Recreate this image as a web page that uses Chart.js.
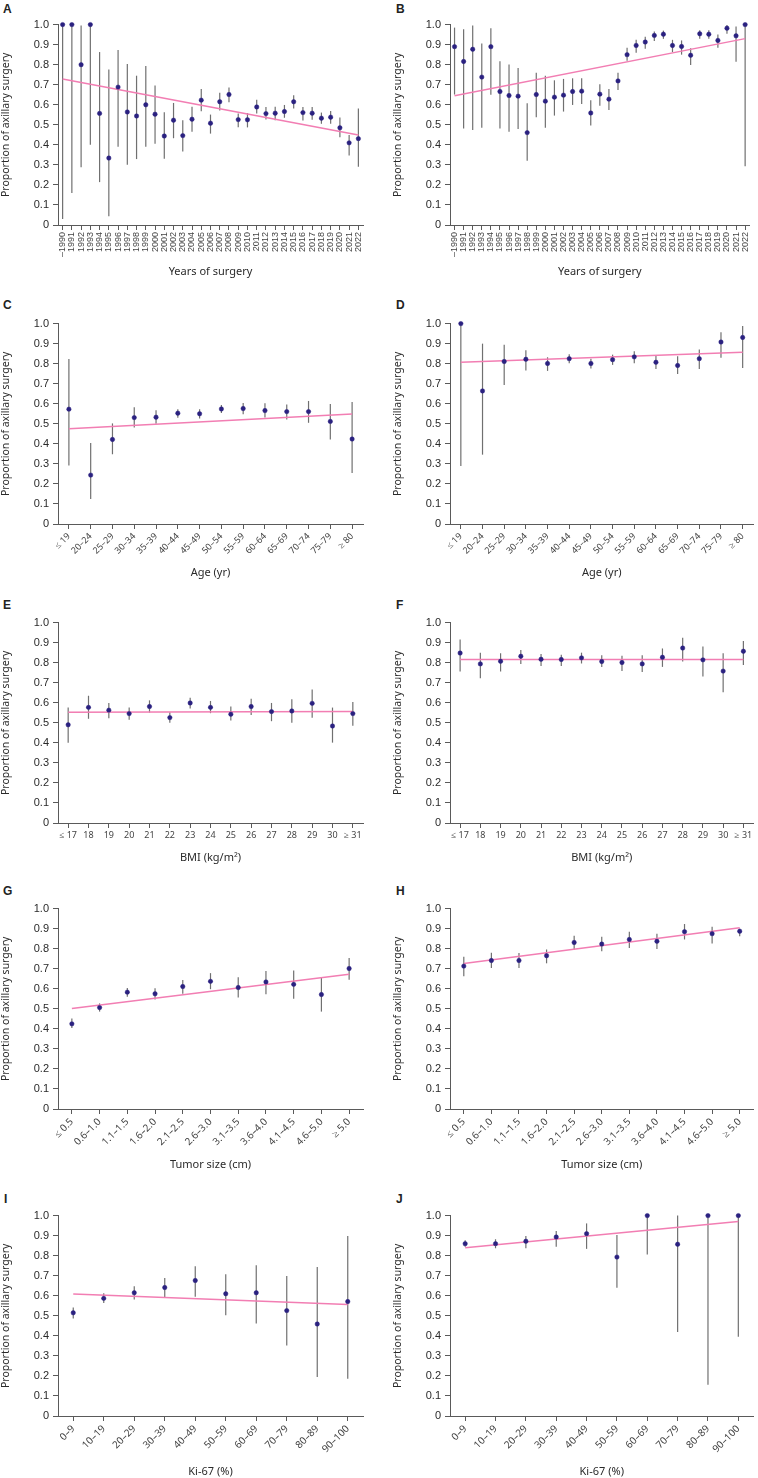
<!DOCTYPE html>
<html>
<head>
<meta charset="utf-8">
<script src="https://cdn.jsdelivr.net/npm/chart.js@4.4.1/dist/chart.umd.min.js"></script>
<style>
  body { margin: 0; background: #fff; width: 758px; height: 1478px; position: relative; overflow: hidden; }
  canvas { position: absolute; }
  .letter { position: absolute; font: bold 12px "Liberation Sans", Arial, sans-serif; line-height: 1; color: #222; }
</style>
</head>
<body>
<script>
// --- category labels ---
const yearLabels = ['–1990','1991','1992','1993','1994','1995','1996','1997','1998','1999','2000','2001','2002','2003','2004','2005','2006','2007','2008','2009','2010','2011','2012','2013','2014','2015','2016','2017','2018','2019','2020','2021','2022'];
const ageLabels = ['≤ 19','20–24','25–29','30–34','35–39','40–44','45–49','50–54','55–59','60–64','65–69','70–74','75–79','≥ 80'];
const bmiLabels = ['≤ 17','18','19','20','21','22','23','24','25','26','27','28','29','30','≥ 31'];
const sizeLabels = ['≤ 0.5','0.6–1.0','1.1–1.5','1.6–2.0','2.1–2.5','2.6–3.0','3.1–3.5','3.6–4.0','4.1–4.5','4.6–5.0','≥ 5.0'];
const kiLabels = ['0–9','10–19','20–29','30–39','40–49','50–59','60–69','70–79','80–89','90–100'];
const yTicks = [0, 0.1, 0.2, 0.3, 0.4, 0.5, 0.6, 0.7, 0.8, 0.9, 1.0];

// --- A: years of surgery ---
const aVal  = [1.0,1.0,0.80,1.0,0.557,0.334,0.688,0.564,0.544,0.600,0.553,0.444,0.523,0.446,0.528,0.623,0.508,0.615,0.651,0.526,0.525,0.589,0.556,0.558,0.566,0.615,0.561,0.558,0.533,0.538,0.485,0.410,0.431];
const aLow  = [0.03,0.16,0.288,0.40,0.214,0.044,0.391,0.301,0.329,0.390,0.406,0.331,0.433,0.367,0.465,0.567,0.456,0.571,0.613,0.488,0.487,0.556,0.526,0.523,0.535,0.581,0.521,0.525,0.505,0.505,0.438,0.347,0.291];
const aHigh = [1.0,1.0,0.995,1.0,0.863,0.776,0.873,0.803,0.745,0.794,0.696,0.563,0.609,0.523,0.590,0.679,0.551,0.660,0.686,0.556,0.559,0.625,0.589,0.590,0.599,0.648,0.589,0.589,0.561,0.569,0.536,0.449,0.581];
const aTrend = [0.728, 0.449];

// --- B: years of surgery ---
const bVal  = [0.890,0.816,0.877,0.738,0.890,0.666,0.646,0.643,0.461,0.651,0.618,0.638,0.648,0.666,0.668,0.559,0.653,0.628,0.719,0.850,0.896,0.913,0.946,0.952,0.896,0.891,0.847,0.954,0.952,0.921,0.982,0.944,1.0];
const bLow  = [0.651,0.482,0.474,0.485,0.650,0.482,0.465,0.479,0.321,0.538,0.485,0.546,0.566,0.599,0.604,0.497,0.595,0.574,0.674,0.819,0.860,0.880,0.918,0.929,0.863,0.850,0.799,0.929,0.929,0.885,0.954,0.814,0.293];
const bHigh = [0.985,0.977,0.995,0.906,0.982,0.817,0.801,0.783,0.607,0.760,0.745,0.722,0.729,0.732,0.732,0.622,0.702,0.679,0.760,0.885,0.924,0.939,0.965,0.970,0.924,0.921,0.882,0.972,0.972,0.951,0.998,0.990,1.0];
const bTrend = [0.645, 0.930];

// --- C / D: age ---
const cVal  = [0.573,0.244,0.422,0.531,0.533,0.553,0.550,0.574,0.576,0.566,0.561,0.561,0.512,0.424];
const cLow  = [0.292,0.125,0.348,0.482,0.500,0.530,0.526,0.554,0.548,0.531,0.521,0.505,0.422,0.254];
const cHigh = [0.823,0.404,0.502,0.583,0.568,0.573,0.573,0.594,0.604,0.602,0.596,0.614,0.599,0.609];
const cTrend = [0.475, 0.549];

const dVal  = [1.0,0.664,0.811,0.822,0.801,0.825,0.801,0.820,0.834,0.807,0.791,0.825,0.908,0.931];
const dLow  = [0.290,0.346,0.694,0.766,0.764,0.802,0.776,0.794,0.802,0.773,0.748,0.774,0.830,0.779];
const dHigh = [1.0,0.900,0.895,0.867,0.832,0.847,0.825,0.845,0.862,0.840,0.837,0.871,0.957,0.988];
const dTrend = [0.807, 0.857];

// --- E / F: BMI ---
const eVal  = [0.490,0.577,0.563,0.546,0.581,0.526,0.599,0.577,0.543,0.581,0.556,0.559,0.597,0.484,0.546];
const eLow  = [0.400,0.520,0.523,0.515,0.551,0.500,0.571,0.548,0.512,0.539,0.508,0.500,0.525,0.401,0.485];
const eHigh = [0.576,0.635,0.599,0.576,0.612,0.553,0.625,0.609,0.581,0.620,0.599,0.618,0.666,0.576,0.604];
const eTrend = [0.553, 0.556];

const fVal  = [0.848,0.794,0.807,0.832,0.817,0.816,0.824,0.806,0.801,0.794,0.827,0.873,0.814,0.758,0.857];
const fLow  = [0.756,0.722,0.756,0.794,0.783,0.784,0.796,0.778,0.758,0.753,0.779,0.806,0.731,0.652,0.789];
const fHigh = [0.916,0.850,0.847,0.863,0.843,0.840,0.850,0.837,0.835,0.837,0.871,0.924,0.881,0.847,0.908];
const fTrend = [0.816, 0.816];

// --- G / H: tumor size ---
const gVal  = [0.425,0.506,0.583,0.575,0.611,0.637,0.606,0.634,0.622,0.571,0.701];
const gLow  = [0.404,0.486,0.560,0.547,0.575,0.598,0.557,0.573,0.550,0.486,0.645];
const gHigh = [0.452,0.527,0.604,0.603,0.644,0.678,0.658,0.688,0.691,0.655,0.754];
const gTrend = [0.502, 0.672];

const hVal  = [0.713,0.741,0.741,0.765,0.831,0.823,0.846,0.837,0.885,0.875,0.887];
const hLow  = [0.662,0.703,0.703,0.727,0.795,0.787,0.803,0.798,0.846,0.826,0.862];
const hHigh = [0.760,0.780,0.778,0.796,0.865,0.860,0.885,0.875,0.923,0.910,0.900];
const hTrend = [0.726, 0.905];

// --- I / J: Ki-67 ---
const iVal  = [0.515,0.587,0.615,0.641,0.676,0.610,0.615,0.526,0.459,0.571];
const iLow  = [0.487,0.564,0.581,0.590,0.595,0.503,0.462,0.352,0.194,0.186];
const iHigh = [0.541,0.612,0.648,0.689,0.747,0.707,0.752,0.699,0.743,0.898];
const iTrend = [0.609, 0.556];

const jVal  = [0.860,0.860,0.872,0.893,0.910,0.793,1.0,0.857,1.0,1.0];
const jLow  = [0.844,0.837,0.837,0.844,0.834,0.640,0.806,0.419,0.156,0.396];
const jHigh = [0.877,0.882,0.898,0.923,0.961,0.903,1.0,1.0,1.0,1.0];
const jTrend = [0.839, 0.970];

// colours
const POINT = '#2a2180';
const PINK = '#f27eb3';
const BAR = '#707070';
const AXIS = '#5a5a5a';
const TEXT = '#2a2a2a';
const XTEXT = '#444444';

// error bars drawn under the datasets, through the chart's own scales
const errorBars = {
  id: 'errorBars',
  beforeDatasetsDraw(chart, args, opts) {
    const { ctx, scales: { x, y } } = chart;
    ctx.save();
    ctx.strokeStyle = BAR;
    ctx.lineWidth = 1.2;
    opts.low.forEach((lo, i) => {
      const px = x.getPixelForValue(i);
      ctx.beginPath();
      ctx.moveTo(px, y.getPixelForValue(lo));
      ctx.lineTo(px, y.getPixelForValue(opts.high[i]));
      ctx.stroke();
    });
    ctx.restore();
  }
};

// panel layout (top of chart area, x-axis box height, tick font etc.)
const panels = [
  { key: 'A', col: 0, top: 22,    xh: 53, labels: yearLabels, val: aVal, low: aLow, high: aHigh, trend: aTrend, title: 'Years of surgery', rot: 90, fam: '"Liberation Sans", Arial', size: 9 },
  { key: 'B', col: 1, top: 22,    xh: 53, labels: yearLabels, val: bVal, low: bLow, high: bHigh, trend: bTrend, title: 'Years of surgery', rot: 90, fam: '"Liberation Sans", Arial', size: 9 },
  { key: 'C', col: 0, top: 320.5, xh: 55, labels: ageLabels,  val: cVal, low: cLow, high: cHigh, trend: cTrend, title: 'Age (yr)', rot: 45, fam: '"Noto Sans"', size: 9 },
  { key: 'D', col: 1, top: 320.5, xh: 55, labels: ageLabels,  val: dVal, low: dLow, high: dHigh, trend: dTrend, title: 'Age (yr)', rot: 45, fam: '"Noto Sans"', size: 9 },
  { key: 'E', col: 0, top: 620,   xh: 41, labels: bmiLabels,  val: eVal, low: eLow, high: eHigh, trend: eTrend, title: 'BMI (kg/m²)', rot: 0, fam: '"Noto Sans"', size: 9 },
  { key: 'F', col: 1, top: 620,   xh: 41, labels: bmiLabels,  val: fVal, low: fLow, high: fHigh, trend: fTrend, title: 'BMI (kg/m²)', rot: 0, fam: '"Noto Sans"', size: 9 },
  { key: 'G', col: 0, top: 905.7, xh: 62, labels: sizeLabels, val: gVal, low: gLow, high: gHigh, trend: gTrend, title: 'Tumor size (cm)', rot: 45, fam: '"Noto Sans"', size: 10 },
  { key: 'H', col: 1, top: 905.7, xh: 62, labels: sizeLabels, val: hVal, low: hLow, high: hHigh, trend: hTrend, title: 'Tumor size (cm)', rot: 45, fam: '"Noto Sans"', size: 10 },
  { key: 'I', col: 0, top: 1212.5, xh: 62, labels: kiLabels,  val: iVal, low: iLow, high: iHigh, trend: iTrend, title: 'Ki-67 (%)', rot: 45, fam: '"Noto Sans"', size: 10 },
  { key: 'J', col: 1, top: 1212.5, xh: 62, labels: kiLabels,  val: jVal, low: jLow, high: jHigh, trend: jTrend, title: 'Ki-67 (%)', rot: 45, fam: '"Noto Sans"', size: 10 }
];

// panel letters (page position of the letter box)
const letters = [
  ['A', 3, 2.5], ['B', 396, 2.5], ['C', 3, 299], ['D', 396, 299], ['E', 3, 599],
  ['F', 396, 599], ['G', 3, 885], ['H', 396, 885], ['I', 4, 1192.5], ['J', 396, 1192.5]
];
letters.forEach(([t, x, y]) => {
  const d = document.createElement('div');
  d.className = 'letter';
  d.textContent = t;
  d.style.left = x + 'px';
  d.style.top = y + 'px';
  document.body.appendChild(d);
});

const AREA_H = 203;
const PAD_TOP = 8;

panels.forEach(p => {
  const cv = document.createElement('canvas');
  const h = PAD_TOP + AREA_H + p.xh;
  cv.width = 379;
  cv.height = h;
  cv.style.left = (p.col * 379) + 'px';
  cv.style.top = (p.top - PAD_TOP) + 'px';
  document.body.appendChild(cv);

  const last = p.labels.length - 1;

  new Chart(cv, {
    type: 'line',
    data: {
      labels: p.labels,
      datasets: [
        {
          data: p.val,
          showLine: false,
          pointStyle: 'circle',
          pointRadius: 2.2,
          backgroundColor: POINT,
          borderColor: POINT,
          borderWidth: 0.5,
          clip: false
        },
        {
          data: [{ x: p.labels[0], y: p.trend[0] }, { x: p.labels[last], y: p.trend[1] }],
          borderColor: PINK,
          borderWidth: 1.5,
          pointRadius: 0,
          clip: false
        }
      ]
    },
    options: {
      responsive: false,
      animation: false,
      devicePixelRatio: 1,
      layout: { padding: { top: PAD_TOP, bottom: 0, left: p.col ? 13 : 0, right: p.col ? 1 : 16 } },
      plugins: {
        legend: { display: false },
        tooltip: { enabled: false },
        errorBars: { low: p.low, high: p.high }
      },
      scales: {
        x: {
          type: 'category',
          offset: true,
          grid: { offset: false, drawOnChartArea: false, tickLength: 5, color: AXIS, lineWidth: 1 },
          border: { color: AXIS, width: 1 },
          ticks: {
            autoSkip: false, minRotation: p.rot, maxRotation: p.rot, padding: 2,
            color: XTEXT, font: { family: p.fam, size: p.size }
          },
          title: {
            display: true, text: p.title, padding: 0, color: TEXT,
            font: { family: '"Noto Sans"', size: 11 }
          },
          afterFit(s) { s.height = p.xh; }
        },
        y: {
          min: 0,
          max: 1,
          afterBuildTicks(s) { s.ticks = yTicks.map(v => ({ value: v })); },
          grid: { drawOnChartArea: false, tickLength: 5, color: AXIS, lineWidth: 1 },
          border: { color: AXIS, width: 1 },
          ticks: {
            padding: 4, color: TEXT,
            font: { family: '"Liberation Sans", Arial', size: 11 },
            callback: v => (v === 0 ? '0' : v.toFixed(1))
          },
          title: {
            display: true, text: 'Proportion of axillary surgery', padding: 0, color: TEXT,
            font: { family: '"Noto Sans"', size: 10.5 }
          },
          afterFit(s) { s.width = 58; }
        }
      }
    },
    plugins: [errorBars]
  });
});
</script>
</body>
</html>
